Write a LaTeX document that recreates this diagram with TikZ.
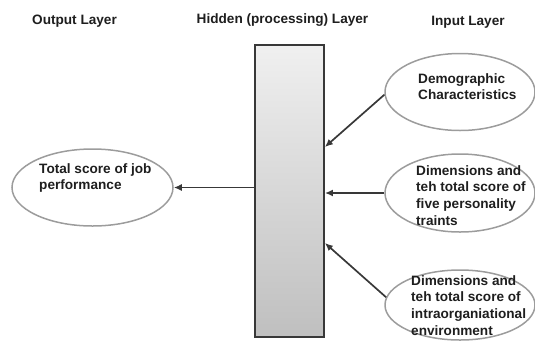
\documentclass[tikz,border=0pt]{standalone}
\usepackage{fontspec}
\setmainfont{Liberation Sans}
\usepackage{xcolor}
\usepackage{tikz}
\usetikzlibrary{arrows.meta,shapes.geometric}

\definecolor{linegray}{HTML}{383838}
\definecolor{rimgray}{HTML}{9C9C9C}
\definecolor{inkgray}{HTML}{1E1E1E}

\begin{document}
\begin{tikzpicture}[x=1pt,y=-1pt,
	layer/.style={font=\bfseries\fontsize{13.6}{16.8}\selectfont,text=inkgray,inner sep=0pt,anchor=base},
	bubble/.style={ellipse,draw=rimgray,line width=1.5pt,inner sep=0pt},
	btext/.style={font=\bfseries\fontsize{13.6}{16.8}\selectfont,text=inkgray,align=left,inner sep=0pt,anchor=north west},
	feed/.style={draw=linegray,line width=1.7pt,-{Latex[length=8pt,width=7pt]}}]
	\useasboundingbox (0,0) rectangle (535,341);
	%\draw[help lines,step=20] (0,0) grid (535,341);

	% headings
	\node[layer] (outlay) at (74.5,24) {Output Layer};
	\node[layer] (hidlay) at (282.5,23) {Hidden (processing) Layer};
	\node[layer] (inlay) at (468,25) {Input Layer};

	% hidden layer
	\node[rectangle,draw=linegray,line width=1.8pt,top color=gray!12,bottom color=gray!50,
		minimum width=69pt,minimum height=292pt,inner sep=0pt] (box) at (289.5,191) {};

	% input layer
	\node[bubble,minimum width=150pt,minimum height=77pt] (demo) at (460,92) {};
	\node[btext] (demotxt) at (418,73) {Demographic\\Characteristics};
	\node[bubble,minimum width=150pt,minimum height=78pt] (pers) at (460,193) {};
	\node[btext] (perstxt) at (416,165) {Dimensions and\\teh total score of\\five personality\\traints};
	\node[bubble,minimum width=150pt,minimum height=70pt] (env) at (460,305) {};
	\node[btext] (envtxt) at (411,275) {Dimensions and\\teh total score of\\intraorganiational\\environment};

	% output layer
	\node[bubble,minimum width=161pt,minimum height=77pt] (out) at (92.5,187.5) {};
	\node[btext] (outtxt) at (39,163) {Total score of job\\performance};

	% connectors
	\coordinate (hin1) at (box.east |- 0,147);
	\coordinate (hin2) at (box.east |- pers.west);
	\coordinate (hin3) at (box.east |- 0,243);
	\coordinate (hout) at (box.west |- out.east);
	\draw[feed] (demo.182) -- (hin1);
	\draw[feed] (pers.west) -- (hin2);
	\draw[feed] (env.174) -- (hin3);
	\draw[feed] (hout) -- (out.east);
\end{tikzpicture}
\end{document}
